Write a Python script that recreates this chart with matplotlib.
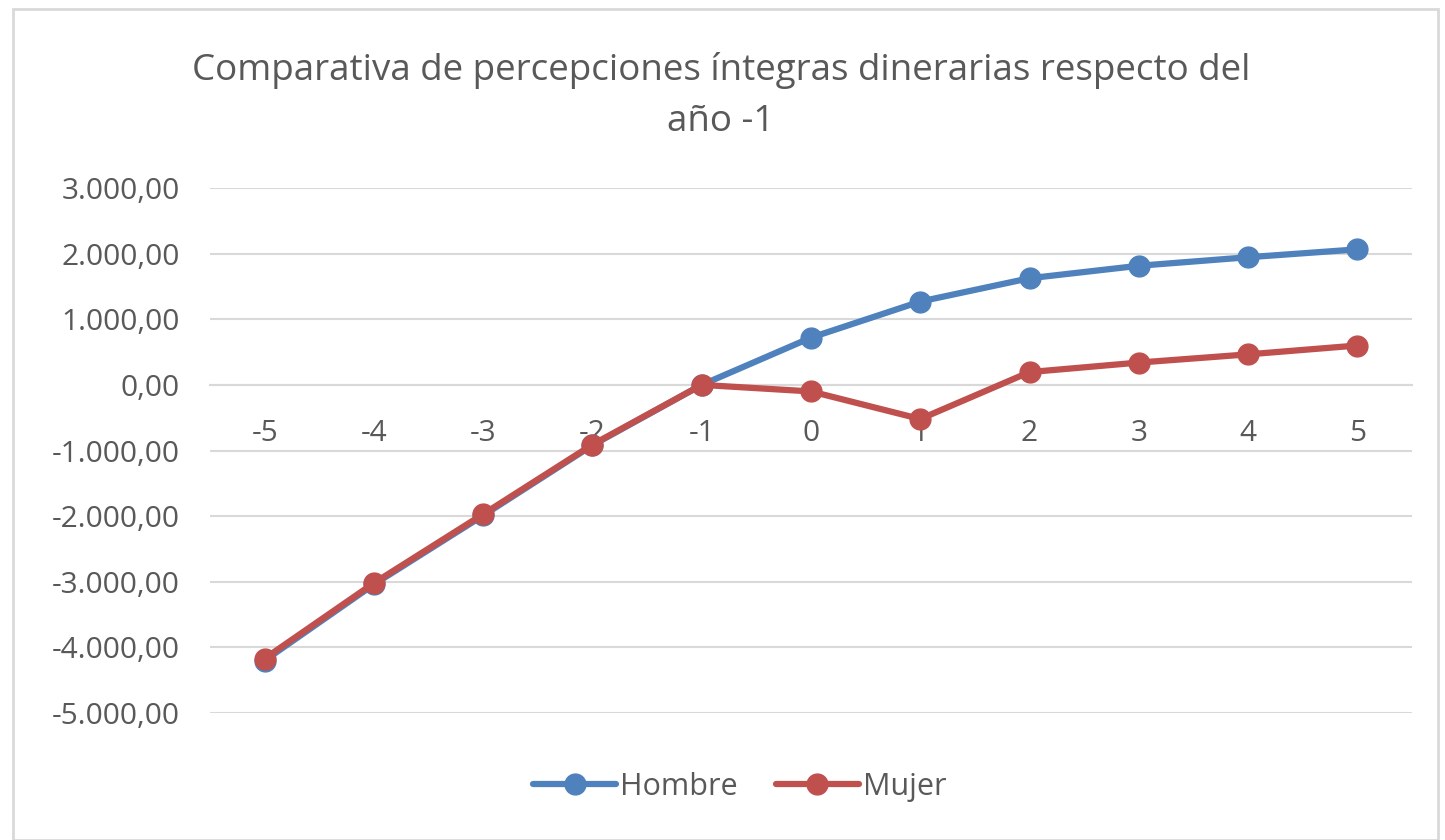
import matplotlib
matplotlib.use("Agg")
import matplotlib.pyplot as plt
import matplotlib.ticker as ticker
from matplotlib.patches import Rectangle

# data
years = [-5, -4, -3, -2, -1, 0, 1, 2, 3, 4, 5]
hombre = [-4200, -3040, -1990, -920, 0, 720, 1270, 1625, 1815, 1945, 2065]
mujer = [-4170, -3020, -1970, -910, 0, -100, -520, 195, 340, 465, 600]
yticks = [3000, 2000, 1000, 0, -1000, -2000, -3000, -4000, -5000]

title = "Comparativa de percepciones íntegras dinerarias respecto del\naño -1"

plt.rcParams['font.family'] = ['Open Sans', 'DejaVu Sans']
txt = '#595959'
grid = '#d9d9d9'
blue = '#4F81BD'
red = '#C0504D'


def es_fmt(v, pos):
    s = "{:,.2f}".format(v)
    return s.replace(",", "X").replace(".", ",").replace("X", ".")


fig = plt.figure(figsize=(14.45, 8.4), dpi=100)
fig.patches.append(Rectangle((13 / 1445, 0.0), 1 - 20 / 1445, 1 - 9 / 840,
                             transform=fig.transFigure, fill=False,
                             edgecolor=grid, linewidth=2))

ax = fig.add_axes([210 / 1445, 1 - 713 / 840, 1202 / 1445, 525 / 840])
x = list(range(len(years)))
ax.plot(x, hombre, color=blue, lw=4.5, marker='o', ms=15, label='Hombre',
        solid_capstyle='round', zorder=3)
ax.plot(x, mujer, color=red, lw=4.5, marker='o', ms=15, label='Mujer',
        solid_capstyle='round', zorder=4)

ax.set_xlim(-0.5, len(years) - 0.5)
ax.set_ylim(-5000, 3000)
ax.set_yticks(yticks)
ax.yaxis.set_major_formatter(ticker.FuncFormatter(es_fmt))
ax.set_xticks(x)
ax.set_xticklabels([str(y) for y in years])
ax.grid(axis='y', color=grid, lw=1.5)
ax.set_axisbelow(True)
for s in ['top', 'right', 'left']:
    ax.spines[s].set_visible(False)
ax.spines['bottom'].set_position(('data', 0))
ax.spines['bottom'].set_color(grid)
ax.spines['bottom'].set_linewidth(1.5)
ax.tick_params(axis='both', length=0, labelsize=21.5, colors=txt)
ax.tick_params(axis='y', pad=22)
ax.tick_params(axis='x', pad=24.5)

fig.text(721 / 1445, 1 - 96 / 840, title, ha='center', va='center',
         fontsize=26.5, color=txt, linespacing=1.55)

leg = fig.legend(loc='center', bbox_to_anchor=(740 / 1445, 1 - 787 / 840),
                 ncol=2, frameon=False, fontsize=22, labelcolor=txt,
                 handlelength=2.7, handletextpad=0.15, columnspacing=1.25)

fig.savefig('out.png', dpi=100)
